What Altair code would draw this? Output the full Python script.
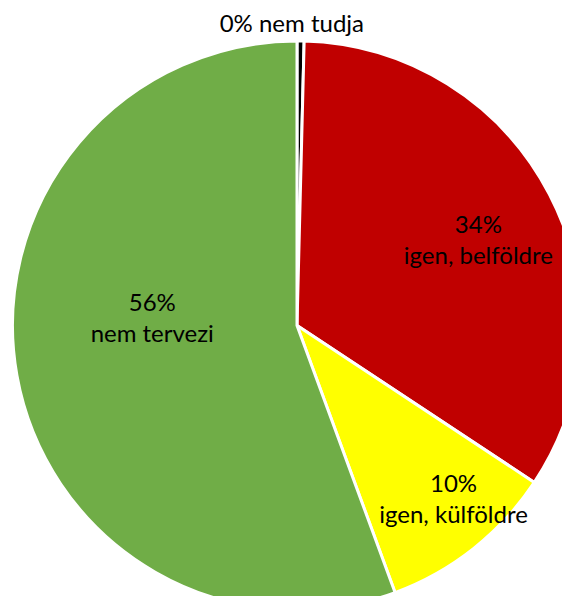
import altair as alt
import pandas as pd

categories = ["nem tudja", "igen, belföldre", "igen, külföldre", "nem tervezi"]
values = [0.4, 33.9, 10.1, 55.6]
labels = ["0% nem tudja", "34%\nigen, belföldre", "10%\nigen, külföldre", "56%\nnem tervezi"]
colors = ["#000000", "#C00000", "#FFFF00", "#70AD47"]

df = pd.DataFrame({
    "cat": categories,
    "value": values,
    "label": labels,
    "order": list(range(len(categories))),
})
total = float(sum(values))

CX, CY, R = 289, 317.5, 284.5
FONT = "Lato"

pie = alt.Chart(df).mark_arc(radius=R, stroke="white", strokeWidth=3).encode(
    theta=alt.Theta("value:Q", stack=True),
    order=alt.Order("order:Q"),
    color=alt.Color("cat:N", scale=alt.Scale(domain=categories, range=colors), legend=None),
    x=alt.value(CX),
    y=alt.value(CY),
)

# label placement styles: (radius, dx, dy)
label_style = {
    "nem tudja": (305, -9, 4),
    "igen, belföldre": (200, 4, -7),
    "igen, külföldre": (233, 12, -23),
    "nem tervezi": (145, -2, -47),
}

layers = [pie]
for c in categories:
    r, dx, dy = label_style[c]
    t = (
        alt.Chart(df)
        .transform_window(cum="sum(value)", sort=[alt.SortField("order")], frame=[None, 0])
        .transform_calculate(mid="datum.cum - datum.value / 2")
        .transform_filter(alt.datum.cat == c)
        .mark_text(radius=r, dx=dx, dy=dy, lineBreak="\n", lineHeight=31,
                   fontSize=24, font=FONT, color="black", align="center", baseline="middle")
        .encode(
            theta=alt.Theta("mid:Q", scale=alt.Scale(domain=[0, total])),
            text=alt.Text("label:N"),
            x=alt.value(CX),
            y=alt.value(CY),
        )
    )
    layers.append(t)

chart = (
    alt.layer(*layers)
    .properties(width=554, height=588, padding=0, autosize=alt.AutoSizeParams(type="none"))
    .configure_view(stroke=None)
)

chart.save("out.html", embed_options={"renderer": "svg", "actions": False})
